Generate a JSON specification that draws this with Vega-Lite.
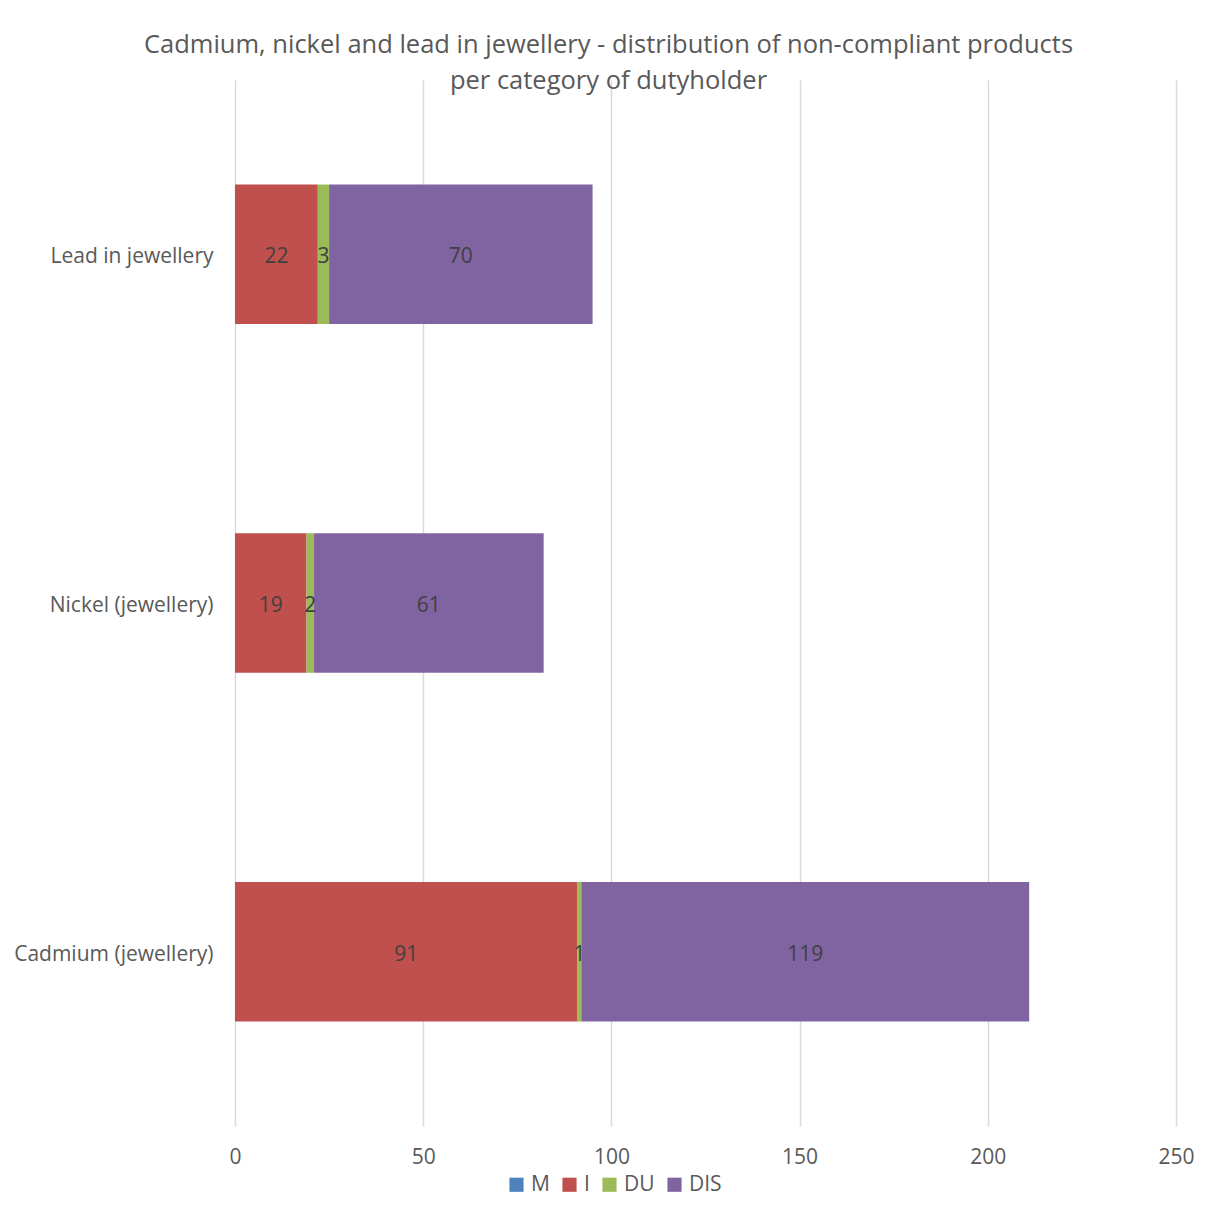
{
  "$schema": "https://vega.github.io/schema/vega-lite/v6.json",
  "width": 941,
  "height": 1046,
  "autosize": {"type": "none"},
  "padding": {"left": 235, "top": 80, "right": 34, "bottom": 94},
  "background": "white",
  "title": {
    "text": ["Cadmium, nickel and lead in jewellery - distribution of non-compliant products", "per category of dutyholder"],
    "font": "Open Sans",
    "fontSize": 25.5,
    "fontWeight": "normal",
    "color": "#595959",
    "lineHeight": 36,
    "anchor": "middle",
    "dx": -97,
    "offset": -14
  },
  "data": {
    "values": [
      {"category": "Lead in jewellery", "series": "M", "order": 1, "value": 0},
      {"category": "Lead in jewellery", "series": "I", "order": 2, "value": 22},
      {"category": "Lead in jewellery", "series": "DU", "order": 3, "value": 3},
      {"category": "Lead in jewellery", "series": "DIS", "order": 4, "value": 70},
      {"category": "Nickel (jewellery)", "series": "M", "order": 1, "value": 0},
      {"category": "Nickel (jewellery)", "series": "I", "order": 2, "value": 19},
      {"category": "Nickel (jewellery)", "series": "DU", "order": 3, "value": 2},
      {"category": "Nickel (jewellery)", "series": "DIS", "order": 4, "value": 61},
      {"category": "Cadmium (jewellery)", "series": "M", "order": 1, "value": 0},
      {"category": "Cadmium (jewellery)", "series": "I", "order": 2, "value": 91},
      {"category": "Cadmium (jewellery)", "series": "DU", "order": 3, "value": 1},
      {"category": "Cadmium (jewellery)", "series": "DIS", "order": 4, "value": 119}
    ]
  },
  "transform": [
    {"stack": "value", "groupby": ["category"], "sort": [{"field": "order", "order": "ascending"}], "as": ["x0", "x1"]},
    {"calculate": "(datum.x0 + datum.x1) / 2", "as": "mid"}
  ],
  "encoding": {
    "y": {
      "field": "category",
      "type": "nominal",
      "sort": ["Lead in jewellery", "Nickel (jewellery)", "Cadmium (jewellery)"],
      "scale": {"paddingInner": 0.6, "paddingOuter": 0.3},
      "axis": {
        "title": null,
        "ticks": false,
        "domain": false,
        "labelPadding": 22,
        "labelOffset": 3,
        "labelLimit": 300,
        "labelFont": "Open Sans",
        "labelFontSize": 21,
        "labelColor": "#595959"
      }
    }
  },
  "layer": [
    {
      "mark": {"type": "bar"},
      "encoding": {
        "x": {
          "field": "x0",
          "type": "quantitative",
          "scale": {"domain": [0, 250], "nice": false},
          "axis": {
            "title": null,
            "values": [0, 50, 100, 150, 200, 250],
            "ticks": false,
            "domain": false,
            "grid": true,
            "gridColor": "#D9D9D9",
            "gridWidth": 1.5,
            "labelFlush": false,
            "labelPadding": 20,
            "labelFont": "Open Sans",
            "labelFontSize": 21,
            "labelColor": "#595959"
          }
        },
        "x2": {"field": "x1"},
        "color": {
          "field": "series",
          "type": "nominal",
          "scale": {"domain": ["M", "I", "DU", "DIS"], "range": ["#4F81BD", "#C0504D", "#9BBB59", "#8064A2"]},
          "legend": {
            "title": null,
            "orient": "none",
            "direction": "horizontal",
            "legendX": 271,
            "legendY": 1094,
            "symbolType": "square",
            "symbolSize": 200,
            "symbolStrokeWidth": 0,
            "symbolOpacity": 1,
            "labelFont": "Open Sans",
            "labelFontSize": 21,
            "labelColor": "#595959",
            "labelOffset": 4,
            "columnPadding": 9
          }
        }
      }
    },
    {
      "transform": [{"filter": "datum.value > 0"}],
      "mark": {"type": "text", "font": "Open Sans", "fontSize": 21, "color": "#404040", "baseline": "middle", "align": "center", "dy": 3},
      "encoding": {
        "x": {"field": "mid", "type": "quantitative"},
        "text": {"field": "value", "type": "quantitative"}
      }
    }
  ],
  "config": {
    "view": {"stroke": null}
  }
}
